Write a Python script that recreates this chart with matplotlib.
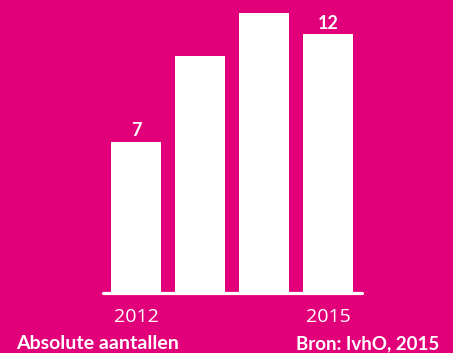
import matplotlib
matplotlib.use("Agg")
import matplotlib.pyplot as plt

years = ["2012", "2013", "2014", "2015"]
counts = [7, 11, 13, 12]
tick_labels = {0: "2012", 3: "2015"}
value_labels = {0: "7", 3: "12"}

bg = "#E2007A"
fig = plt.figure(figsize=(4.53, 3.53), dpi=100, facecolor=bg)
ax = fig.add_axes([0, 0, 1, 1])
ax.set_facecolor(bg)
ax.set_xlim(-2.125, 4.953)
ax.set_ylim(-2.78, 13.58)
ax.axis("off")

x = list(range(len(years)))
ax.bar(x, counts, width=0.78, color="white", zorder=2)
ax.plot([-0.52, 3.53], [0, 0], color="white", lw=2.3, solid_capstyle="round", zorder=3)

for i, lab in tick_labels.items():
    ax.text(i, -0.68, lab, ha="center", va="top", color="white",
            fontsize=14, family="Open Sans", fontweight="normal")
for i, lab in value_labels.items():
    ax.text(i, counts[i] + 0.12, lab, ha="center", va="bottom", color="white",
            fontsize=13, family="Lato", fontweight="bold")

fig.text(16 / 453, 1 / 353, "Absolute aantallen", ha="left", va="bottom",
         color="white", fontsize=14, family="Lato", fontweight="bold")
fig.text(439 / 453, 1 / 353, "Bron: IvhO, 2015", ha="right", va="bottom",
         color="white", fontsize=13.5, family="Lato", fontweight="bold")

fig.savefig("out.png", dpi=100, facecolor=bg)
